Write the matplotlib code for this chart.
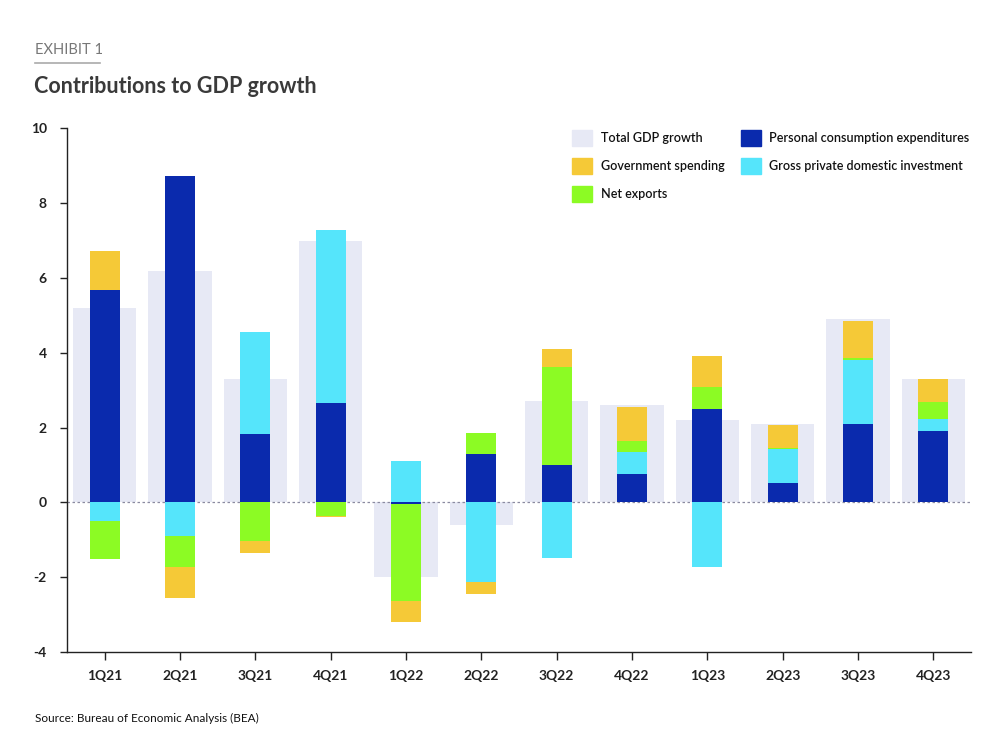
import numpy as np
import matplotlib
matplotlib.use("Agg")
import matplotlib.pyplot as plt
from matplotlib.patches import Patch

# quarters on the x axis
quarters = ['1Q21', '2Q21', '3Q21', '4Q21', '1Q22', '2Q22',
            '3Q22', '4Q22', '1Q23', '2Q23', '3Q23', '4Q23']

# contributions (percentage points)
total_gdp = [5.2, 6.2, 3.3, 7.0, -2.0, -0.6, 2.7, 2.6, 2.2, 2.1, 4.9, 3.3]
pce = [5.67, 8.72, 1.84, 2.67, -0.03, 1.30, 1.01, 0.77, 2.49, 0.52, 2.10, 1.90]
investment = [-0.49, -0.90, 2.71, 4.62, 1.11, -2.12, -1.48, 0.58, -1.72, 0.90, 1.72, 0.34]
net_exports = [-1.03, -0.82, -1.03, -0.35, -2.60, 0.55, 2.61, 0.30, 0.59, 0.03, 0.04, 0.44]
government = [1.04, -0.83, -0.31, -0.05, -0.56, -0.34, 0.48, 0.89, 0.83, 0.63, 0.99, 0.61]

y_ticks = [-4, -2, 0, 2, 4, 6, 8, 10]

c_total = '#E7E9F5'
c_pce = '#0A2AAD'
c_inv = '#55E5FB'
c_nx = '#8CFB24'
c_gov = '#F5C937'
txt = '#3a3a3a'

plt.rcParams['font.family'] = ['Lato', 'DejaVu Sans']

fig = plt.figure(figsize=(10, 7.49), dpi=100)
ax = fig.add_axes([0.067, 0.1295, 0.904, 0.699])

x = np.arange(len(quarters))
ax.bar(x, total_gdp, width=0.84, color=c_total, zorder=1)
ax.axhline(0, color='#8a8aa0', lw=0.9, ls=(0, (2, 2)), zorder=2)

# stack positives upward and negatives downward, same order
pos_base = np.zeros(len(x))
neg_base = np.zeros(len(x))
for vals, col in [(pce, c_pce), (investment, c_inv), (net_exports, c_nx), (government, c_gov)]:
    v = np.array(vals)
    base = np.where(v >= 0, pos_base, neg_base)
    ax.bar(x, v, bottom=base, width=0.4, color=col, zorder=3)
    pos_base = pos_base + np.clip(v, 0, None)
    neg_base = neg_base + np.clip(v, None, 0)

ax.set_xlim(-0.5, 11.5)
ax.set_ylim(-4, 10)
ax.set_yticks(y_ticks)
ax.set_yticklabels([str(t) for t in y_ticks])
ax.set_xticks(x)
ax.set_xticklabels(quarters)
for s in ['top', 'right']:
    ax.spines[s].set_visible(False)
for s in ['left', 'bottom']:
    ax.spines[s].set_color('#222222')
    ax.spines[s].set_linewidth(1.0)
ax.tick_params(axis='y', length=5, width=1, color='#222222', pad=9.5,
               labelsize=10, labelcolor='#222222')
ax.tick_params(axis='x', length=6, width=1, color='#222222', pad=7,
               labelsize=10, labelcolor='#222222')
for lab in ax.get_xticklabels() + ax.get_yticklabels():
    lab.set_fontweight('bold')

handles = [Patch(color=c_total, label='Total GDP growth'),
           Patch(color=c_gov, label='Government spending'),
           Patch(color=c_nx, label='Net exports'),
           Patch(color=c_pce, label='Personal consumption expenditures'),
           Patch(color=c_inv, label='Gross private domestic investment')]
leg = ax.legend(handles=handles, ncol=2, loc='upper right', bbox_to_anchor=(1.011, 1.019),
                frameon=False, fontsize=9.0, handlelength=1.6, handleheight=1.6,
                handletextpad=0.7, columnspacing=1.3, labelspacing=0.95)
for t in leg.get_texts():
    t.set_color('#111111')
    t.set_fontweight('semibold')

fig.text(0.035, 0.933, 'EXHIBIT 1', fontsize=10.5, color='#777777', ha='left', va='center')
fig.add_artist(plt.Line2D([0.035, 0.1], [0.916, 0.916], color='#aaaaaa', lw=1.2))
fig.text(0.034, 0.884, 'Contributions to GDP growth', fontsize=15.5, fontweight='bold',
         color=txt, ha='left', va='center')
fig.text(0.035, 0.041, 'Source: Bureau of Economic Analysis (BEA)', fontsize=8.5,
         color='#111111', ha='left', va='center')

fig.savefig('out.png', dpi=100)
